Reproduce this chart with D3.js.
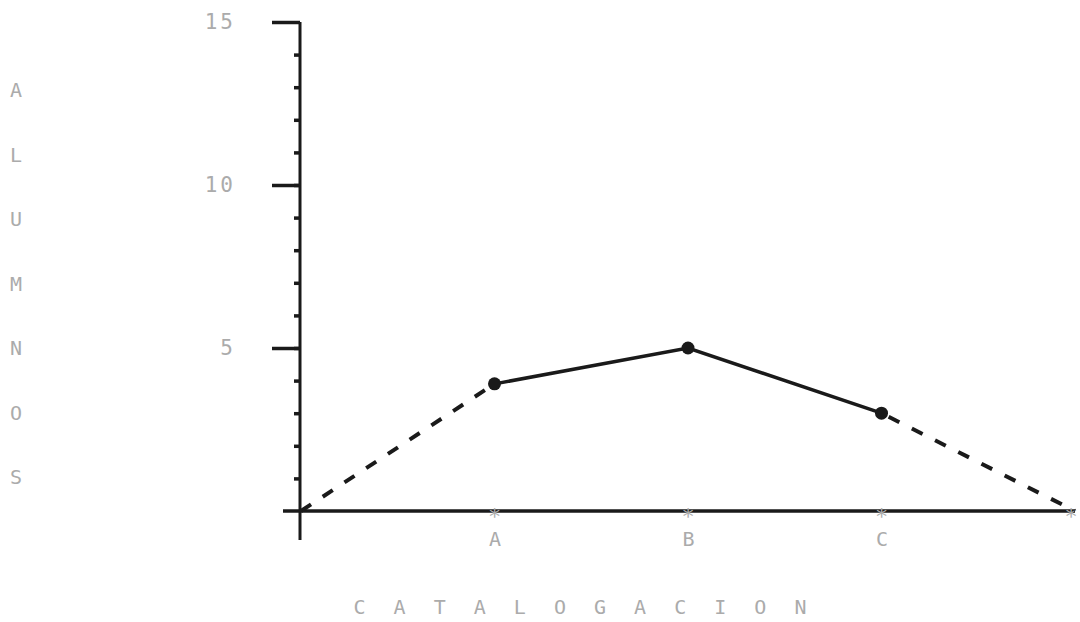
<!DOCTYPE html>
<html><head><meta charset="utf-8">
<script src="https://cdn.jsdelivr.net/npm/d3@7"></script>
<style>
html,body{margin:0;padding:0;background:#fff;}
svg{display:block;}
.lbl{font-family:"DejaVu Sans Mono",monospace;fill:#ababab;}
</style></head>
<body>
<svg id="chart" width="1080" height="622"></svg>
<script>
// Data
const categories = ["", "A", "B", "C", " "];
const values = [0, 3.9, 5, 3, 0];
const yMajorTicks = [5, 10, 15];
const yMinorTicks = d3.range(1, 15);
const yTitle = ["A", "L", "U", "M", "N", "O", "S"];
const xTitle = "C A T A L O G A C I O N";

const svg = d3.select("#chart");
const ink = "#1a1a1a";
const x = d3.scalePoint().domain(categories).range([301, 1075]);
const y = d3.scaleLinear().domain([0, 15]).range([511, 22]);

// Y axis minor ticks
const gMinor = svg.append("g").attr("transform", "translate(300,0)")
  .call(d3.axisLeft(y).tickValues(yMinorTicks).tickSize(6).tickFormat(""));
gMinor.select(".domain").remove();
gMinor.selectAll(".tick line").attr("stroke", ink).attr("stroke-width", 3.5);

// Y axis major ticks
const gMajor = svg.append("g").attr("transform", "translate(300,0)")
  .call(d3.axisLeft(y).tickValues(yMajorTicks).tickSize(28).tickPadding(36));
gMajor.select(".domain").attr("stroke", ink).attr("stroke-width", 3).attr("d", "M0," + y(15) + "V540");
gMajor.selectAll(".tick line").attr("stroke", ink).attr("stroke-width", 3.5);
gMajor.selectAll(".tick text").attr("class", "lbl").style("font-size", "21px").style("letter-spacing", "3px");

// X axis
const gx = svg.append("g").attr("transform", "translate(0," + y(0) + ")")
  .call(d3.axisBottom(x).tickValues(["A", "B", "C"]).tickSize(0).tickPadding(21));
gx.select(".domain").attr("stroke", ink).attr("stroke-width", 3.5).attr("d", "M283,0H1075");
gx.selectAll(".tick text").attr("class", "lbl").style("font-size", "20px");

// asterisks on x axis
svg.append("g").selectAll("text").data(categories.slice(1)).join("text")
  .attr("class", "lbl").attr("x", d => Math.min(x(d), 1071)).attr("y", y(0) + 13)
  .attr("text-anchor", "middle").style("font-size", "22px").text("*");

// Lines
const pts = categories.map((c, i) => [x(c), y(values[i])]);
const line = d3.line();
svg.append("path").attr("d", line([pts[0], pts[1]])).attr("fill", "none")
  .attr("stroke", ink).attr("stroke-width", 4).attr("stroke-dasharray", "12 14");
svg.append("path").attr("d", line(pts.slice(1, 4))).attr("fill", "none")
  .attr("stroke", ink).attr("stroke-width", 3.5);
svg.append("path").attr("d", line([pts[3], pts[4]])).attr("fill", "none")
  .attr("stroke", ink).attr("stroke-width", 4).attr("stroke-dasharray", "12 14").attr("stroke-dashoffset", -8);

// Markers
svg.append("g").selectAll("circle").data(pts.slice(1, 4)).join("circle")
  .attr("cx", d => d[0]).attr("cy", d => d[1]).attr("r", 6.5).attr("fill", ink);

// Y title (vertical letters)
svg.append("g").selectAll("text").data(yTitle).join("text")
  .attr("class", "lbl").attr("x", 16).attr("y", (d, i) => 97 + i * 64.5)
  .attr("text-anchor", "middle").style("font-size", "20px").text(d => d);

// X title
svg.append("text").attr("class", "lbl").attr("x", 584).attr("y", 614)
  .attr("text-anchor", "middle").style("font-size", "20px")
  .style("letter-spacing", "8px").text(xTitle);
</script>
</body></html>
